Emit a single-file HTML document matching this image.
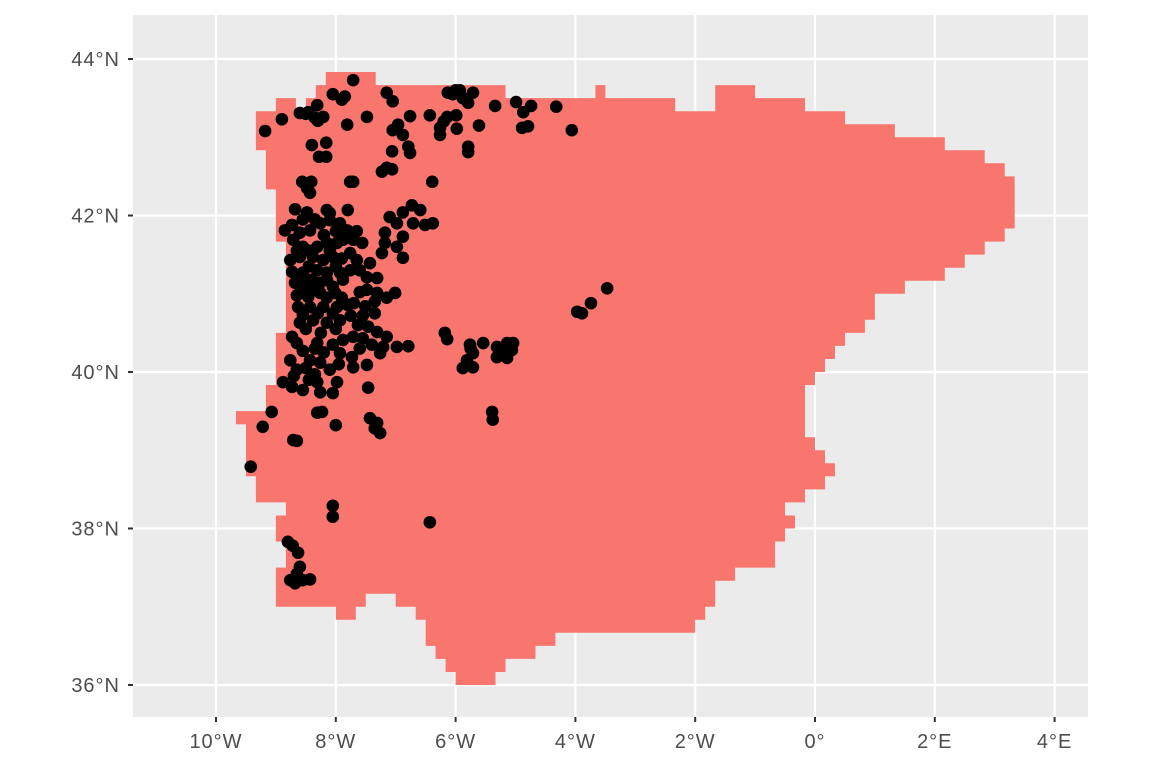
<!DOCTYPE html>
<html><head><meta charset="utf-8"><style>
html,body{margin:0;padding:0;background:#fff;}
svg{display:block;font-family:"Liberation Sans",sans-serif;}
</style></head><body>
<svg id="chart" width="1152" height="768" viewBox="0 0 1152 768" xmlns="http://www.w3.org/2000/svg">
<rect x="133" y="15" width="955" height="702" fill="#EBEBEB"/>
<g id="grid"></g>
<g id="region"></g>
<g id="pts"></g>
<g id="axes"></g>
</svg>
<script>
// Graticule ticks (degrees)
const lonTicks = [-10, -8, -6, -4, -2, 0, 2, 4];
const lonLabels = ["10°W", "8°W", "6°W", "4°W", "2°W", "0°", "2°E", "4°E"];
const latTicks = [36, 38, 40, 42, 44];
const latLabels = ["36°N", "38°N", "40°N", "42°N", "44°N"];
// Raster outline vertices on a 1/6-degree grid (lon = col/6, lat = row/6)
const outlineCol = [-49,-44,-44,-31,-31,-22,-22,-21,-21,-14,-14,-10,-10,-6,-6,-1,-1,3,3,8,8,13,13,17,17,19,19,20,20,19,19,17,17,15,15,13,13,9,9,6,6,5,5,3,3,2,2,1,1,0,0,-1,-1,0,0,1,1,2,2,1,1,-1,-1,-3,-3,-2,-2,-3,-3,-4,-4,-8,-8,-10,-10,-11,-11,-12,-12,-26,-26,-28,-28,-31,-31,-32,-32,-36,-36,-37,-37,-38,-38,-39,-39,-40,-40,-42,-42,-45,-45,-46,-46,-48,-48,-54,-54,-53,-53,-54,-54,-53,-53,-56,-56,-57,-57,-58,-58,-55,-55,-54,-54,-53,-53,-54,-54,-55,-55,-56,-56,-54,-54,-52,-52,-51,-51,-50,-50,-49];
const outlineRow = [263,263,262,262,261,261,262,262,261,261,260,260,262,262,261,261,260,260,259,259,258,258,257,257,256,256,255,255,251,251,250,250,249,249,248,248,247,247,246,246,244,244,243,243,242,242,241,241,240,240,239,239,235,235,234,234,233,233,232,232,231,231,230,230,229,229,228,228,227,227,225,225,224,224,222,222,221,221,220,220,219,219,218,218,217,217,216,216,217,217,218,218,219,219,221,221,222,222,223,223,222,222,221,221,222,222,225,225,227,227,229,229,230,230,232,232,236,236,237,237,239,239,243,243,250,250,254,254,257,257,260,260,261,261,260,260,261,261,262,262];
// Observation sites [lon, lat]
const sites = [[-7.71,43.73],[-8.05,43.55],[-7.90,43.48],[-8.31,43.41],[-8.60,43.31],[-8.46,43.32],[-8.21,43.26],[-8.30,43.21],[-8.90,43.23],[-9.18,43.08],[-7.81,43.16],[-7.48,43.26],[-7.15,43.57],[-7.05,43.46],[-6.76,43.27],[-6.96,43.16],[-7.05,43.09],[-6.88,43.03],[-6.79,42.88],[-6.76,42.80],[-7.06,42.82],[-6.43,43.28],[-6.13,43.57],[-5.93,43.60],[-5.79,43.44],[-5.71,43.57],[-6.14,43.26],[-5.99,43.28],[-6.26,43.12],[-6.26,43.03],[-5.98,43.11],[-5.61,43.15],[-5.79,42.88],[-5.79,42.81],[-5.34,43.40],[-4.99,43.45],[-4.87,43.32],[-4.74,43.40],[-4.89,43.12],[-4.79,43.14],[-4.32,43.39],[-4.06,43.09],[-8.40,42.90],[-8.16,42.93],[-8.28,42.75],[-8.16,42.75],[-7.15,42.61],[-7.23,42.56],[-7.06,42.59],[-8.56,42.43],[-8.41,42.43],[-8.48,42.35],[-8.43,42.29],[-7.76,42.43],[-7.71,42.43],[-6.39,42.43],[-6.00,43.60],[-6.05,43.55],[-5.88,43.50],[-8.50,43.30],[-8.35,43.25],[-7.85,43.52],[-6.20,43.20],
[-8.68,42.08],[-8.48,42.04],[-8.15,42.07],[-8.10,42.03],[-7.80,42.07],[-8.85,41.81],[-8.73,41.88],[-8.60,41.78],[-8.43,41.81],[-8.26,41.90],[-8.10,41.94],[-7.93,41.90],[-7.81,41.81],[-8.71,41.69],[-8.55,41.60],[-8.31,41.60],[-8.15,41.65],[-7.98,41.65],[-7.88,41.69],[-7.71,41.69],[-7.56,41.65],[-8.76,41.43],[-8.60,41.47],[-8.38,41.47],[-8.21,41.43],[-8.05,41.47],[-7.76,41.52],[-7.65,41.43],[-7.43,41.39],[-8.73,41.28],[-8.55,41.27],[-8.31,41.30],[-8.15,41.27],[-7.93,41.27],[-7.76,41.30],[-7.48,41.21],[-7.31,41.20],[-8.68,41.14],[-8.48,41.09],[-8.26,41.14],[-8.05,41.09],[-8.65,40.98],[-8.46,40.96],[-8.26,41.01],[-8.01,41.01],[-7.60,41.02],[-7.48,41.05],[-7.31,41.01],[-7.15,40.95],[-7.01,41.01],[-8.63,40.83],[-8.43,40.83],[-8.21,40.83],[-7.98,40.83],[-7.81,40.86],[-7.51,40.84],[-7.35,40.75],[-8.60,40.63],[-8.38,40.66],[-8.15,40.63],[-7.93,40.66],[-7.63,40.60],[-7.46,40.58],[-7.31,40.51],[-8.73,40.45],[-8.65,40.37],[-8.31,40.37],[-8.05,40.35],[-7.88,40.41],[-7.71,40.45],[-7.55,40.43],[-7.15,40.45],[-7.21,40.32],[-6.98,40.32],[-6.79,40.33],[-8.76,40.15],[-8.65,40.03],[-8.43,40.15],[-8.26,40.12],[-8.10,40.03],[-7.93,40.24],[-7.73,40.19],[-7.71,40.06],[-7.48,40.09],[-7.26,40.24],[-8.88,39.87],[-8.73,39.81],[-8.55,39.77],[-8.31,39.87],[-8.26,39.74],[-8.05,39.73],[-7.98,39.87],[-7.46,39.80],
[-8.55,41.95],[-8.35,41.95],[-8.20,41.75],[-8.00,41.80],[-7.65,41.80],[-8.65,41.55],[-8.45,41.55],[-8.10,41.55],[-7.90,41.45],[-8.45,41.35],[-8.00,41.35],[-7.60,41.30],[-8.60,41.20],[-8.40,41.18],[-8.15,41.18],[-7.88,41.18],[-8.55,41.03],[-8.35,41.05],[-8.15,40.95],[-7.90,40.95],[-8.55,40.73],[-8.30,40.75],[-8.05,40.75],[-7.75,40.72],[-8.50,40.55],[-8.25,40.50],[-8.00,40.55],[-8.55,40.27],[-8.35,40.30],[-8.20,40.25],[-8.50,40.05],[-8.35,39.97],[-7.95,40.10],[-7.60,40.30],[-7.40,40.35],[-8.45,39.90],[-8.70,39.95],[-7.70,40.88],[-7.55,40.72],[-7.35,40.90],
[-6.38,41.90],[-6.59,42.07],[-6.73,42.13],[-6.88,42.04],[-7.10,41.98],[-6.98,41.90],[-6.71,41.90],[-6.51,41.88],[-7.18,41.78],[-6.88,41.73],[-7.18,41.65],[-6.98,41.60],[-7.23,41.52],[-6.88,41.46],
[-6.18,40.50],[-6.14,40.42],[-5.76,40.35],[-5.54,40.37],[-5.71,40.24],[-5.81,40.15],[-5.88,40.05],[-5.71,40.06],[-5.31,40.32],[-5.14,40.37],[-5.04,40.37],[-5.31,40.19],[-5.14,40.18],[-5.06,40.28],[-5.75,40.30],[-5.25,40.25],[-3.47,41.07],[-3.74,40.88],[-3.97,40.77],[-3.89,40.75],
[-9.07,39.49],[-9.22,39.30],[-8.31,39.48],[-8.23,39.49],[-8.00,39.32],[-7.43,39.41],[-7.31,39.35],[-7.26,39.22],[-7.35,39.28],[-8.71,39.13],[-8.65,39.12],[-9.42,38.79],[-5.39,39.49],[-5.38,39.39],[-8.05,38.29],[-8.05,38.15],[-6.43,38.08],[-8.80,37.83],[-8.72,37.78],[-8.63,37.69],[-8.60,37.51],[-8.65,37.42],[-8.76,37.34],[-8.55,37.34],[-8.43,37.35],[-8.68,37.30],[-8.62,37.36]];

const NS = "http://www.w3.org/2000/svg";
const P = {l:133, r:1088, t:15, b:717};
function xScale(lon){ return 815 + lon * 59.9; }
function yScale(lat){ return 685 - (lat - 36) * 78.25; }
function mk(tag, attrs, parent){
  const e = document.createElementNS(NS, tag);
  for (const k in attrs) e.setAttribute(k, attrs[k]);
  parent.appendChild(e); return e;
}
const grid = document.getElementById('grid');
lonTicks.forEach(v => {
  const l = mk('line', {x1:xScale(v), x2:xScale(v), y1:P.t, y2:P.b, stroke:'#fff', 'stroke-width':2.2}, grid);
  
  
});
latTicks.forEach(v => {
  const l = mk('line', {x1:P.l, x2:P.r, y1:yScale(v), y2:yScale(v), stroke:'#fff', 'stroke-width':2.2}, grid);
  
  
});
const region = document.getElementById('region');
let d = '';
outlineCol.forEach((c, i) => {
  d += (i ? 'L' : 'M') + xScale(c / 6).toFixed(1) + ',' + yScale(outlineRow[i] / 6).toFixed(1);
});
const poly = mk('path', {d: d + 'Z', fill:'#F8766D'}, region);


const pts = document.getElementById('pts');
sites.forEach(s => {
  const c = mk('circle', {cx:xScale(s[0]), cy:yScale(s[1]), r:6.3, fill:'#000'}, pts);
  
  
});
const axes = document.getElementById('axes');
lonTicks.forEach((v, i) => {
  const t = mk('line', {x1:xScale(v), x2:xScale(v), y1:P.b, y2:P.b + 5, stroke:'#333', 'stroke-width':2}, axes);
  
  
  const tx = mk('text', {x:xScale(v), y:748, 'text-anchor':'middle', 'font-size':20, fill:'#4D4D4D', 'letter-spacing':1}, axes);
  tx.textContent = lonLabels[i];
  
  
});
latTicks.forEach((v, i) => {
  const t = mk('line', {x1:P.l - 5, x2:P.l, y1:yScale(v), y2:yScale(v), stroke:'#333', 'stroke-width':2}, axes);
  
  
  const tx = mk('text', {x:120, y:yScale(v) + 7, 'text-anchor':'end', 'font-size':20, fill:'#4D4D4D', 'letter-spacing':1}, axes);
  tx.textContent = latLabels[i];
  
  
});
</script>
</body></html>
